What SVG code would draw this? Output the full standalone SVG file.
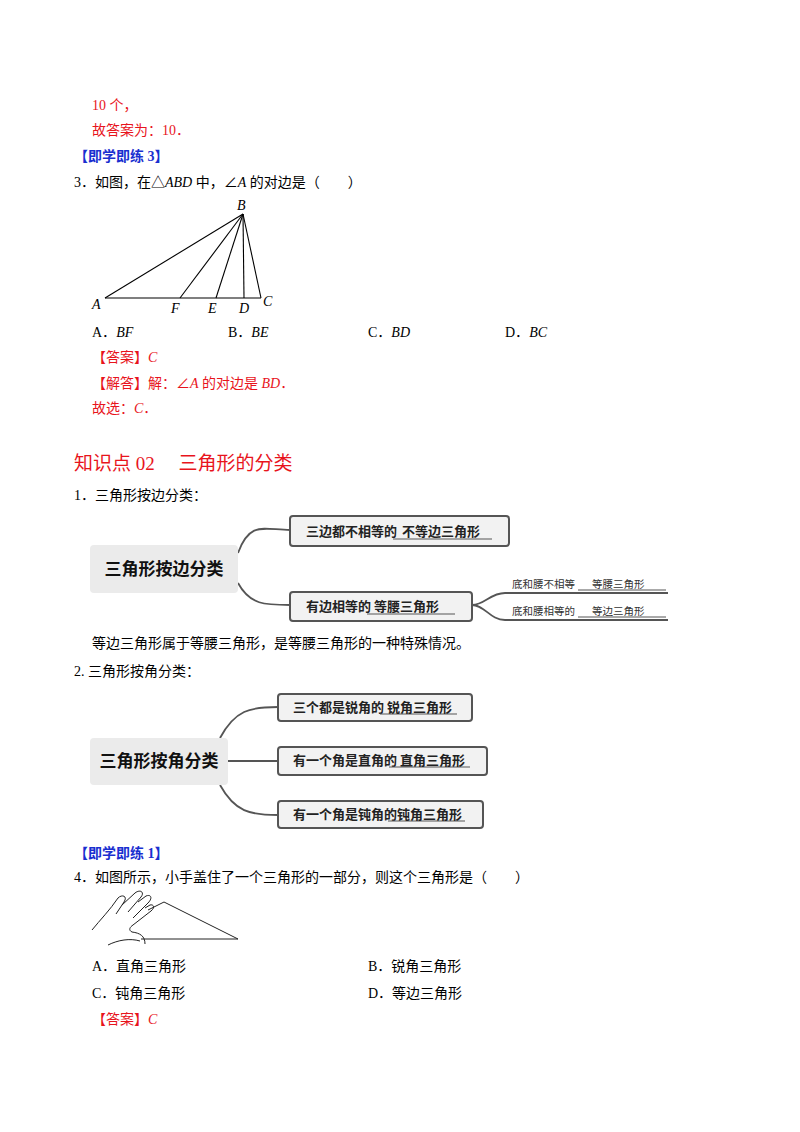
<svg xmlns="http://www.w3.org/2000/svg" width="800" height="1132" viewBox="0 0 800 1132">
<style>
text{font-family:"Liberation Serif","Noto Sans CJK SC",serif;font-size:14px;fill:#000}
.r{fill:#e8141c}
.b{fill:#1a2fd0;font-weight:bold}
.i{font-style:italic}
.h{fill:#e8141c;font-size:19px}
.mm{font-family:"Noto Sans CJK SC","Liberation Sans",sans-serif;font-weight:bold;font-size:13px;fill:#222}
.mt{font-family:"Noto Sans CJK SC","Liberation Sans",sans-serif;font-weight:bold;font-size:17px;fill:#111}
.ms{font-family:"Noto Sans CJK SC","Liberation Sans",sans-serif;font-size:10.5px;fill:#333}
.box{fill:#f2f2f2;stroke:#555;stroke-width:2}
.root{fill:#ebebeb}
.c{fill:none;stroke:#555;stroke-width:1.8}
.u{stroke:#555;stroke-width:1}
.g{fill:none;stroke:#000;stroke-width:1.1}
</style>
<text x="92" y="110" class="r">10 个，</text>
<text x="92" y="135" class="r">故答案为：10．</text>
<text x="74" y="161" class="b">【即学即练 3】</text>
<text x="74" y="187">3．如图，在△<tspan class="i">ABD</tspan> 中，∠<tspan class="i">A</tspan> 的对边是（　　）</text>
<g id="fig1" class="g">
<line x1="105" y1="298" x2="261" y2="298"/>
<line x1="105" y1="298" x2="243" y2="214"/>
<line x1="180" y1="298" x2="243" y2="214"/>
<line x1="216" y1="298" x2="243" y2="214"/>
<line x1="244" y1="298" x2="243" y2="214"/>
<line x1="261" y1="298" x2="243" y2="214"/>
</g>
<text x="237" y="210" class="i">B</text>
<text x="92" y="309" class="i">A</text>
<text x="171" y="313" class="i">F</text>
<text x="208" y="313" class="i">E</text>
<text x="239" y="313" class="i">D</text>
<text x="263" y="306" class="i">C</text>
<text x="92" y="337">A．<tspan class="i">BF</tspan></text>
<text x="228" y="337">B．<tspan class="i">BE</tspan></text>
<text x="368" y="337">C．<tspan class="i">BD</tspan></text>
<text x="505" y="337">D．<tspan class="i">BC</tspan></text>
<text x="92" y="362" class="r">【答案】<tspan class="i">C</tspan></text>
<text x="92" y="388" class="r">【解答】解：∠<tspan class="i">A</tspan> 的对边是 <tspan class="i">BD</tspan>．</text>
<text x="92" y="413" class="r">故选：<tspan class="i">C</tspan>．</text>
<text x="74" y="470" class="h">知识点 02　 三角形的分类</text>
<text x="74" y="500">1．三角形按边分类：</text>
<g id="connectors1">
<path class="c" d="M238 553 C250 520 265 530 290 530"/>
<path class="c" d="M238 583 C250 605 265 605 290 605"/>
<path class="c" d="M472 605 C485 605 490 593 505 593 L668 593"/>
<path class="c" d="M472 605 C485 605 490 620 505 620 L668 620"/>
</g>
<g id="root1"><rect class="root" x="90" y="545" width="148" height="48" rx="4"/><text x="164" y="575" text-anchor="middle" class="mt">三角形按边分类</text></g>
<g id="n1"><rect class="box" x="290" y="516" width="219" height="30" rx="3"/><text x="306" y="536" class="mm">三边都不相等的</text><line class="u" x1="393" y1="539" x2="492" y2="539"/><text x="402" y="536" class="mm">不等边三角形</text></g>
<g id="n2"><rect class="box" x="290" y="592" width="182" height="29" rx="3"/><text x="306" y="611" class="mm">有边相等的</text><line class="u" x1="367" y1="614" x2="455" y2="614"/><text x="374" y="611" class="mm">等腰三角形</text></g>
<g id="n3"><text x="512" y="588" class="ms">底和腰不相等</text><line class="u" x1="578" y1="590" x2="666" y2="590"/><text x="592" y="588" class="ms">等腰三角形</text></g>
<g id="n4"><text x="512" y="615" class="ms">底和腰相等的</text><line class="u" x1="578" y1="617" x2="666" y2="617"/><text x="592" y="615" class="ms">等边三角形</text></g>
<text x="92" y="648">等边三角形属于等腰三角形，是等腰三角形的一种特殊情况。</text>
<text x="74" y="676">2. 三角形按角分类：</text>
<g id="connectors2">
<path class="c" d="M220 738 C235 710 250 707 278 707"/>
<path class="c" d="M228 761 L278 761"/>
<path class="c" d="M220 785 C235 812 250 815 278 815"/>
</g>
<g id="root2"><rect class="root" x="90" y="738" width="138" height="47" rx="4"/><text x="159" y="767" text-anchor="middle" class="mt">三角形按角分类</text></g>
<g id="m1"><rect class="box" x="278" y="694" width="194" height="27" rx="3"/><text x="293" y="712" class="mm">三个都是锐角的</text><line class="u" x1="380" y1="714" x2="457" y2="714"/><text x="387" y="712" class="mm">锐角三角形</text></g>
<g id="m2"><rect class="box" x="278" y="747" width="209" height="28" rx="3"/><text x="293" y="765" class="mm">有一个角是直角的</text><line class="u" x1="389" y1="767" x2="470" y2="767"/><text x="400" y="765" class="mm">直角三角形</text></g>
<g id="m3"><rect class="box" x="278" y="801" width="205" height="27" rx="3"/><text x="293" y="819" class="mm">有一个角是钝角的</text><line class="u" x1="388" y1="821" x2="465" y2="821"/><text x="397" y="819" class="mm">钝角三角形</text></g>
<text x="74" y="858" class="b">【即学即练 1】</text>
<text x="74" y="882">4．如图所示，小手盖住了一个三角形的一部分，则这个三角形是（　　）</text>
<g id="fig2" fill="none" stroke="#222" stroke-width="1">
<path d="M164 902 L238 939 L141 939"/>
<path d="M164 902 L148 910"/>
<path d="M92 930 C100 920 110 910 118 898 C122 894 128 896 124 902 L116 914 M122 905 L135 893 C140 889 145 892 141 897 L128 912 M138 902 L146 896 C151 894 153 898 148 903 L133 918 M145 908 L150 905 C154 904 155 908 151 911 L133 925 C130 927 128 930 132 932 C140 933 145 936 145 944 M108 945 C118 940 130 938 140 941"/>
</g>
<text x="92" y="971">A．直角三角形</text>
<text x="368" y="971">B．锐角三角形</text>
<text x="92" y="998">C．钝角三角形</text>
<text x="368" y="998">D．等边三角形</text>
<text x="92" y="1024" class="r">【答案】<tspan class="i">C</tspan></text>
</svg>
